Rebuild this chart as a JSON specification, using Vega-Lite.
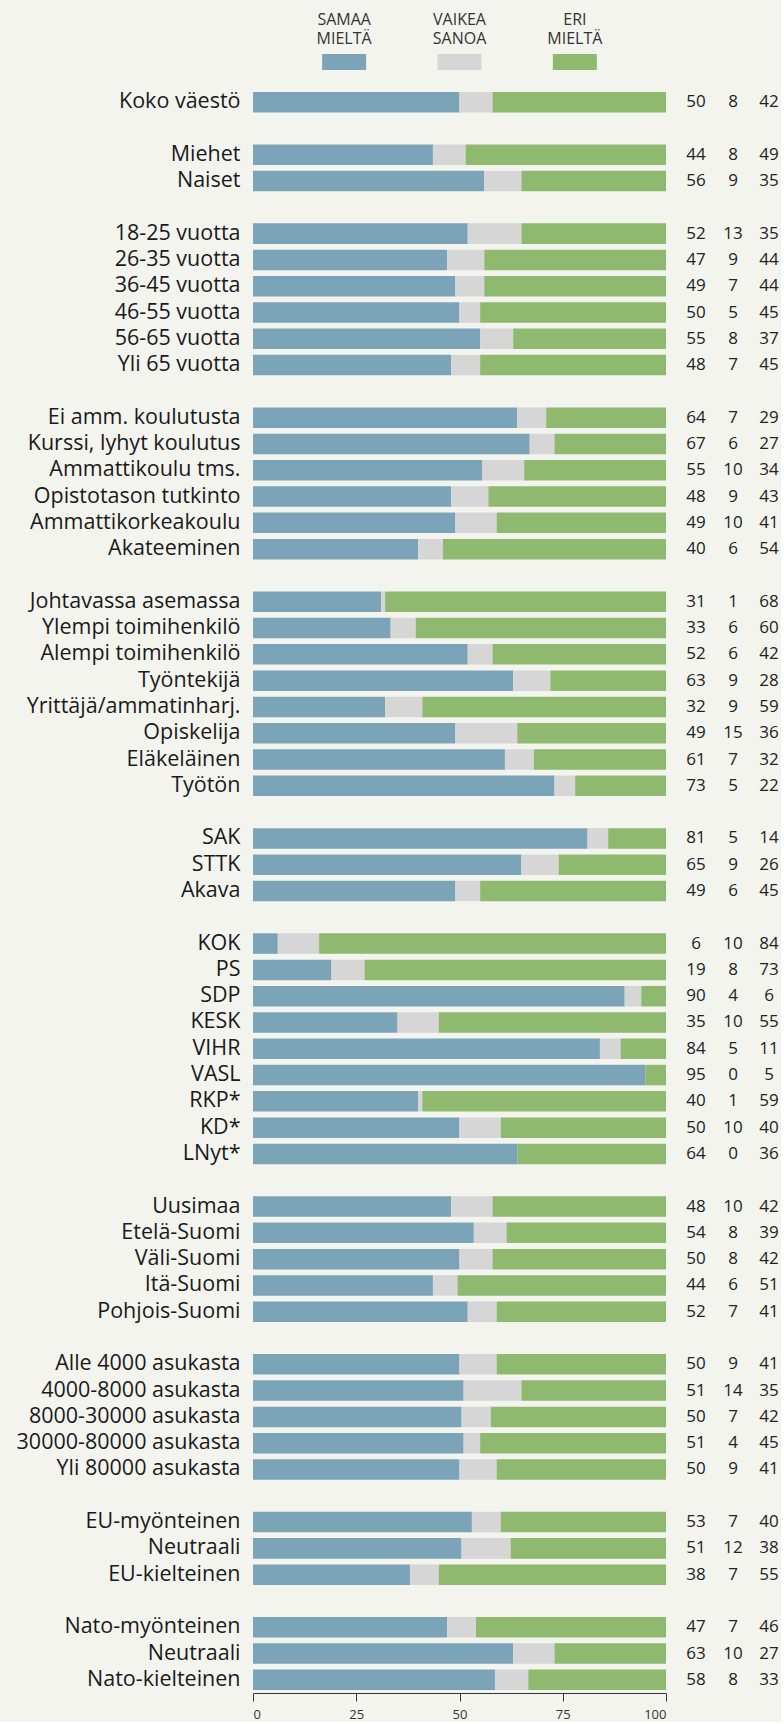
{
  "$schema": "https://vega.github.io/schema/vega-lite/v6.json",
  "background": "#F4F4EF",
  "padding": {"left": 16, "top": 12, "right": 2, "bottom": 1},
  "config": {"font": "Open Sans", "view": {"stroke": null}},
  "bounds": "flush",
  "spacing": 19,
  "datasets": {
    "legend": [
      {"k": "1S", "t": "SAMAA MIELTÄ"},
      {"k": "2V", "t": "VAIKEA SANOA"},
      {"k": "3E", "t": "ERI MIELTÄ"}
    ],
    "rows": [
      {"g":"Koko väestö","k":"1S","v":50},{"g":"Koko väestö","k":"2V","v":8},{"g":"Koko väestö","k":"3E","v":42},
      {"g":"Miehet","k":"1S","v":44},{"g":"Miehet","k":"2V","v":8},{"g":"Miehet","k":"3E","v":49},
      {"g":"Naiset","k":"1S","v":56},{"g":"Naiset","k":"2V","v":9},{"g":"Naiset","k":"3E","v":35},
      {"g":"18-25 vuotta","k":"1S","v":52},{"g":"18-25 vuotta","k":"2V","v":13},{"g":"18-25 vuotta","k":"3E","v":35},
      {"g":"26-35 vuotta","k":"1S","v":47},{"g":"26-35 vuotta","k":"2V","v":9},{"g":"26-35 vuotta","k":"3E","v":44},
      {"g":"36-45 vuotta","k":"1S","v":49},{"g":"36-45 vuotta","k":"2V","v":7},{"g":"36-45 vuotta","k":"3E","v":44},
      {"g":"46-55 vuotta","k":"1S","v":50},{"g":"46-55 vuotta","k":"2V","v":5},{"g":"46-55 vuotta","k":"3E","v":45},
      {"g":"56-65 vuotta","k":"1S","v":55},{"g":"56-65 vuotta","k":"2V","v":8},{"g":"56-65 vuotta","k":"3E","v":37},
      {"g":"Yli 65 vuotta","k":"1S","v":48},{"g":"Yli 65 vuotta","k":"2V","v":7},{"g":"Yli 65 vuotta","k":"3E","v":45},
      {"g":"Ei amm. koulutusta","k":"1S","v":64},{"g":"Ei amm. koulutusta","k":"2V","v":7},{"g":"Ei amm. koulutusta","k":"3E","v":29},
      {"g":"Kurssi, lyhyt koulutus","k":"1S","v":67},{"g":"Kurssi, lyhyt koulutus","k":"2V","v":6},{"g":"Kurssi, lyhyt koulutus","k":"3E","v":27},
      {"g":"Ammattikoulu tms.","k":"1S","v":55},{"g":"Ammattikoulu tms.","k":"2V","v":10},{"g":"Ammattikoulu tms.","k":"3E","v":34},
      {"g":"Opistotason tutkinto","k":"1S","v":48},{"g":"Opistotason tutkinto","k":"2V","v":9},{"g":"Opistotason tutkinto","k":"3E","v":43},
      {"g":"Ammattikorkeakoulu","k":"1S","v":49},{"g":"Ammattikorkeakoulu","k":"2V","v":10},{"g":"Ammattikorkeakoulu","k":"3E","v":41},
      {"g":"Akateeminen","k":"1S","v":40},{"g":"Akateeminen","k":"2V","v":6},{"g":"Akateeminen","k":"3E","v":54},
      {"g":"Johtavassa asemassa","k":"1S","v":31},{"g":"Johtavassa asemassa","k":"2V","v":1},{"g":"Johtavassa asemassa","k":"3E","v":68},
      {"g":"Ylempi toimihenkilö","k":"1S","v":33},{"g":"Ylempi toimihenkilö","k":"2V","v":6},{"g":"Ylempi toimihenkilö","k":"3E","v":60},
      {"g":"Alempi toimihenkilö","k":"1S","v":52},{"g":"Alempi toimihenkilö","k":"2V","v":6},{"g":"Alempi toimihenkilö","k":"3E","v":42},
      {"g":"Työntekijä","k":"1S","v":63},{"g":"Työntekijä","k":"2V","v":9},{"g":"Työntekijä","k":"3E","v":28},
      {"g":"Yrittäjä/ammatinharj.","k":"1S","v":32},{"g":"Yrittäjä/ammatinharj.","k":"2V","v":9},{"g":"Yrittäjä/ammatinharj.","k":"3E","v":59},
      {"g":"Opiskelija","k":"1S","v":49},{"g":"Opiskelija","k":"2V","v":15},{"g":"Opiskelija","k":"3E","v":36},
      {"g":"Eläkeläinen","k":"1S","v":61},{"g":"Eläkeläinen","k":"2V","v":7},{"g":"Eläkeläinen","k":"3E","v":32},
      {"g":"Työtön","k":"1S","v":73},{"g":"Työtön","k":"2V","v":5},{"g":"Työtön","k":"3E","v":22},
      {"g":"SAK","k":"1S","v":81},{"g":"SAK","k":"2V","v":5},{"g":"SAK","k":"3E","v":14},
      {"g":"STTK","k":"1S","v":65},{"g":"STTK","k":"2V","v":9},{"g":"STTK","k":"3E","v":26},
      {"g":"Akava","k":"1S","v":49},{"g":"Akava","k":"2V","v":6},{"g":"Akava","k":"3E","v":45},
      {"g":"KOK","k":"1S","v":6},{"g":"KOK","k":"2V","v":10},{"g":"KOK","k":"3E","v":84},
      {"g":"PS","k":"1S","v":19},{"g":"PS","k":"2V","v":8},{"g":"PS","k":"3E","v":73},
      {"g":"SDP","k":"1S","v":90},{"g":"SDP","k":"2V","v":4},{"g":"SDP","k":"3E","v":6},
      {"g":"KESK","k":"1S","v":35},{"g":"KESK","k":"2V","v":10},{"g":"KESK","k":"3E","v":55},
      {"g":"VIHR","k":"1S","v":84},{"g":"VIHR","k":"2V","v":5},{"g":"VIHR","k":"3E","v":11},
      {"g":"VASL","k":"1S","v":95},{"g":"VASL","k":"2V","v":0},{"g":"VASL","k":"3E","v":5},
      {"g":"RKP*","k":"1S","v":40},{"g":"RKP*","k":"2V","v":1},{"g":"RKP*","k":"3E","v":59},
      {"g":"KD*","k":"1S","v":50},{"g":"KD*","k":"2V","v":10},{"g":"KD*","k":"3E","v":40},
      {"g":"LNyt*","k":"1S","v":64},{"g":"LNyt*","k":"2V","v":0},{"g":"LNyt*","k":"3E","v":36},
      {"g":"Uusimaa","k":"1S","v":48},{"g":"Uusimaa","k":"2V","v":10},{"g":"Uusimaa","k":"3E","v":42},
      {"g":"Etelä-Suomi","k":"1S","v":54},{"g":"Etelä-Suomi","k":"2V","v":8},{"g":"Etelä-Suomi","k":"3E","v":39},
      {"g":"Väli-Suomi","k":"1S","v":50},{"g":"Väli-Suomi","k":"2V","v":8},{"g":"Väli-Suomi","k":"3E","v":42},
      {"g":"Itä-Suomi","k":"1S","v":44},{"g":"Itä-Suomi","k":"2V","v":6},{"g":"Itä-Suomi","k":"3E","v":51},
      {"g":"Pohjois-Suomi","k":"1S","v":52},{"g":"Pohjois-Suomi","k":"2V","v":7},{"g":"Pohjois-Suomi","k":"3E","v":41},
      {"g":"Alle 4000 asukasta","k":"1S","v":50},{"g":"Alle 4000 asukasta","k":"2V","v":9},{"g":"Alle 4000 asukasta","k":"3E","v":41},
      {"g":"4000-8000 asukasta","k":"1S","v":51},{"g":"4000-8000 asukasta","k":"2V","v":14},{"g":"4000-8000 asukasta","k":"3E","v":35},
      {"g":"8000-30000 asukasta","k":"1S","v":50},{"g":"8000-30000 asukasta","k":"2V","v":7},{"g":"8000-30000 asukasta","k":"3E","v":42},
      {"g":"30000-80000 asukasta","k":"1S","v":51},{"g":"30000-80000 asukasta","k":"2V","v":4},{"g":"30000-80000 asukasta","k":"3E","v":45},
      {"g":"Yli 80000 asukasta","k":"1S","v":50},{"g":"Yli 80000 asukasta","k":"2V","v":9},{"g":"Yli 80000 asukasta","k":"3E","v":41},
      {"g":"EU-myönteinen","k":"1S","v":53},{"g":"EU-myönteinen","k":"2V","v":7},{"g":"EU-myönteinen","k":"3E","v":40},
      {"g":"Neutraali|EU","k":"1S","v":51},{"g":"Neutraali|EU","k":"2V","v":12},{"g":"Neutraali|EU","k":"3E","v":38},
      {"g":"EU-kielteinen","k":"1S","v":38},{"g":"EU-kielteinen","k":"2V","v":7},{"g":"EU-kielteinen","k":"3E","v":55},
      {"g":"Nato-myönteinen","k":"1S","v":47},{"g":"Nato-myönteinen","k":"2V","v":7},{"g":"Nato-myönteinen","k":"3E","v":46},
      {"g":"Neutraali|Nato","k":"1S","v":63},{"g":"Neutraali|Nato","k":"2V","v":10},{"g":"Neutraali|Nato","k":"3E","v":27},
      {"g":"Nato-kielteinen","k":"1S","v":58},{"g":"Nato-kielteinen","k":"2V","v":8},{"g":"Nato-kielteinen","k":"3E","v":33}
    ]
  },
  "vconcat": [
    {
      "width": 413,
      "height": 16,
      "data": {"name": "legend"},
      "encoding": {
        "x": {"field": "k", "type": "nominal", "sort": ["1S", "2V", "3E"], "scale": {"type": "point", "padding": 0.79}, "axis": null}
      },
      "layer": [
        {
          "mark": {"type": "bar", "width": 44},
          "encoding": {
            "color": {"field": "k", "type": "nominal", "scale": {"domain": ["1S", "2V", "3E"], "range": ["#7BA4B9", "#D6D6D6", "#8FB96F"]}, "legend": null}
          }
        },
        {
          "mark": {"type": "text", "lineBreak": " ", "baseline": "alphabetic", "dy": -37, "fontSize": 16, "lineHeight": 19, "color": "#333333"},
          "encoding": {"text": {"field": "t"}}
        }
      ]
    },
    {
      "width": 413,
      "height": 1604,
      "data": {"name": "rows"},
      "encoding": {
        "y": {
          "field": "g", "type": "nominal",
          "scale": {
            "paddingInner": 0.22, "paddingOuter": 0.11,
            "domain": ["Koko väestö","|1","Miehet","Naiset","|2","18-25 vuotta","26-35 vuotta","36-45 vuotta","46-55 vuotta","56-65 vuotta","Yli 65 vuotta","|3","Ei amm. koulutusta","Kurssi, lyhyt koulutus","Ammattikoulu tms.","Opistotason tutkinto","Ammattikorkeakoulu","Akateeminen","|4","Johtavassa asemassa","Ylempi toimihenkilö","Alempi toimihenkilö","Työntekijä","Yrittäjä/ammatinharj.","Opiskelija","Eläkeläinen","Työtön","|5","SAK","STTK","Akava","|6","KOK","PS","SDP","KESK","VIHR","VASL","RKP*","KD*","LNyt*","|7","Uusimaa","Etelä-Suomi","Väli-Suomi","Itä-Suomi","Pohjois-Suomi","|8","Alle 4000 asukasta","4000-8000 asukasta","8000-30000 asukasta","30000-80000 asukasta","Yli 80000 asukasta","|9","EU-myönteinen","Neutraali|EU","EU-kielteinen","|10","Nato-myönteinen","Neutraali|Nato","Nato-kielteinen"]
          },
          "axis": {
            "title": null, "domain": false, "ticks": false, "labelFontSize": 21.5, "labelPadding": 13,
            "labelColor": "#1A1A1A", "labelExpr": "split(datum.label, '|')[0]", "labelLimit": 400
          }
        }
      },
      "layer": [
        {
          "mark": {"type": "bar"},
          "encoding": {
            "x": {
              "field": "v", "type": "quantitative", "stack": "normalize",
              "scale": {"domain": [0, 1], "nice": false},
              "axis": {
                "title": null, "grid": false, "values": [0, 0.25, 0.5, 0.75, 1],
                "labelExpr": "format(datum.value * 100, 'd')", "domainColor": "#333333", "tickColor": "#333333",
                "tickSize": 8, "labelFontSize": 13, "labelColor": "#333333", "labelPadding": 7
              }
            },
            "color": {"field": "k", "type": "nominal", "scale": {"domain": ["1S", "2V", "3E"], "range": ["#7BA4B9", "#D6D6D6", "#8FB96F"]}, "legend": null},
            "order": {"field": "k", "sort": "ascending"}
          }
        },
        {
          "transform": [{"filter": "datum.k == '1S'"}],
          "mark": {"type": "text", "dx": 30, "fontSize": 17, "color": "#222222"},
          "encoding": {"x": {"datum": 1}, "text": {"field": "v"}}
        },
        {
          "transform": [{"filter": "datum.k == '2V'"}],
          "mark": {"type": "text", "dx": 67, "fontSize": 17, "color": "#222222"},
          "encoding": {"x": {"datum": 1}, "text": {"field": "v"}}
        },
        {
          "transform": [{"filter": "datum.k == '3E'"}],
          "mark": {"type": "text", "dx": 103, "fontSize": 17, "color": "#222222"},
          "encoding": {"x": {"datum": 1}, "text": {"field": "v"}}
        }
      ]
    }
  ]
}
